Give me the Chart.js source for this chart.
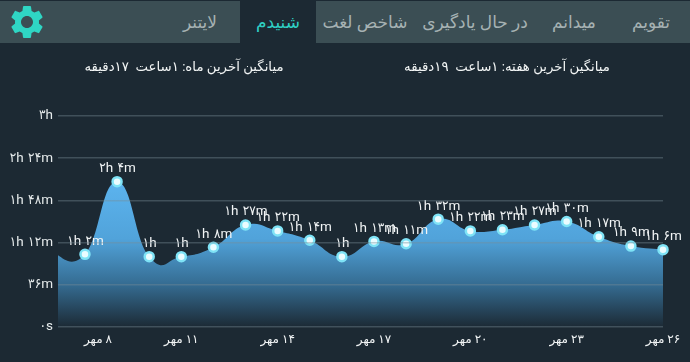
<!DOCTYPE html>
<html lang="fa">
<head>
<meta charset="utf-8">
<title>شنیدم</title>
<script src="https://cdn.jsdelivr.net/npm/chart.js@4"></script>
<style>
  html, body { margin: 0; padding: 0; background: #1c2933; overflow: hidden; }
  body { width: 690px; height: 362px; position: relative; font-family: Roboto, "DejaVu Sans", sans-serif; }
  canvas { position: absolute; left: 0; top: 0; }
  .bar { position: absolute; left: 0; top: 1px; width: 690px; height: 42px; background: #3b4e54; }
  .tab { position: absolute; top: 1px; height: 42px; line-height: 43px; transform: translateX(-50%); white-space: nowrap; color: #a6b2b3; font-size: 17px; direction: rtl; }
  .active { left: 240px; width: 76px; transform: none; text-align: center; background: #1c2933; color: #2fd0c4; top: 0; height: 43px; line-height: 45px; }
  .avg { position: absolute; top: 58px; transform: translateX(-50%); white-space: pre; color: #f2f5f5; font-size: 13.3px; line-height: 18px; direction: rtl; }
  svg { position: absolute; left: 7px; top: 2px; }
</style>
</head>
<body>
<canvas id="listenChart" width="690" height="362"></canvas>
<div class="bar"></div>
<svg width="40" height="40" viewBox="0 0 24 24"><path fill="#2fd6c4" d="M19.14 12.94c.04-.3.06-.61.06-.94 0-.32-.02-.64-.07-.94l2.03-1.58c.18-.14.23-.41.12-.61l-1.92-3.32c-.12-.22-.37-.29-.59-.22l-2.39.96c-.5-.38-1.03-.7-1.62-.94l-.36-2.54c-.04-.24-.24-.41-.48-.41h-3.84c-.24 0-.43.17-.47.41l-.36 2.54c-.59.24-1.13.57-1.62.94l-2.39-.96c-.22-.08-.47 0-.59.22L2.74 8.87c-.12.21-.08.47.12.61l2.03 1.58c-.05.3-.09.63-.09.94s.02.64.07.94l-2.03 1.58c-.18.14-.23.41-.12.61l1.92 3.32c.12.22.37.29.59.22l2.39-.96c.5.38 1.03.7 1.62.94l.36 2.54c.05.24.24.41.48.41h3.84c.24 0 .44-.17.47-.41l.36-2.54c.59-.24 1.13-.56 1.62-.94l2.39.96c.22.08.47 0 .59-.22l1.92-3.32c.12-.22.07-.47-.12-.61l-2.01-1.58zM12 15.6c-1.98 0-3.6-1.62-3.6-3.6s1.62-3.6 3.6-3.6 3.6 1.62 3.6 3.6-1.62 3.6-3.6 3.6z"/></svg>
<div class="tab" style="left:200px">لایتنر</div>
<div class="tab active">شنیدم</div>
<div class="tab" style="left:365px">شاخص لغت</div>
<div class="tab" style="left:475px">در حال یادگیری</div>
<div class="tab" style="left:574px">میدانم</div>
<div class="tab" style="left:651px">تقویم</div>
<div class="avg" style="left:184px">میانگین آخرین ماه: ۱ساعت  ۱۷دقیقه</div>
<div class="avg" style="left:507px">میانگین آخرین هفته: ۱ساعت  ۱۹دقیقه</div>
<script>
// day of the month (mehr) and minutes listened, day 7 sits just off the left edge
const days = [7, 8, 9, 10, 11, 12, 13, 14, 15, 16, 17, 18, 19, 20, 21, 22, 23, 24, 25, 26];
const minutes = [63, 62, 124, 60, 60, 68, 87, 82, 74, 60, 73, 71, 92, 82, 83, 87, 90, 77, 69, 66];
const pointLabels = ["", "۱h ۲m", "۲h ۴m", "۱h", "۱h", "۱h ۸m", "۱h ۲۷m", "۱h ۲۲m", "۱h ۱۴m", "۱h", "۱h ۱۳m", "۱h ۱۱m", "۱h ۳۲m", "۱h ۲۲m", "۱h ۲۳m", "۱h ۲۷m", "۱h ۳۰m", "۱h ۱۷m", "۱h ۹m", "۱h ۶m"];
const yTickValues = [0, 36, 72, 108, 144, 180];
const yTickLabels = ["۰s", "۳۶m", "۱h ۱۲m", "۱h ۴۸m", "۲h ۲۴m", "۳h"];
const xTickDays = [8, 11, 14, 17, 20, 23, 26];
const xTickLabels = ["۸ مهر", "۱۱ مهر", "۱۴ مهر", "۱۷ مهر", "۲۰ مهر", "۲۳ مهر", "۲۶ مهر"];

const fontFamily = 'Roboto, "DejaVu Sans Condensed", "DejaVu Sans", sans-serif';
const curveIntensity = 0.24;

const textPlugin = {
  id: "textPlugin",
  beforeDraw(chart) {
    // digits fall back to a wider font than the original
    chart.ctx.letterSpacing = "-1px";
    chart.ctx.wordSpacing = "3px";
  },
  // the original curve uses even catmull-rom handles, chart.js weights them by distance
  beforeDatasetsDraw(chart) {
    const meta = chart.getDatasetMeta(0);
    meta.dataset.updateControlPoints(chart.chartArea);
    const pts = meta.data;
    pts.forEach((pt, i) => {
      const prev = pts[Math.max(i - 1, 0)];
      const next = pts[Math.min(i + 1, pts.length - 1)];
      const dx = (next.x - prev.x) * curveIntensity;
      const dy = (next.y - prev.y) * curveIntensity;
      pt.cp1x = pt.x - dx;
      pt.cp1y = pt.y - dy;
      pt.cp2x = pt.x + dx;
      pt.cp2y = pt.y + dy;
    });
  },
  // value labels over the points and the date row under the axis
  afterDatasetsDraw(chart) {
    const ctx = chart.ctx;
    const meta = chart.getDatasetMeta(0);
    ctx.save();
    ctx.fillStyle = "#f2f5f6";
    ctx.textAlign = "center";
    ctx.textBaseline = "middle";
    ctx.font = "13.5px " + fontFamily;
    meta.data.forEach((pt, i) => {
      if (pointLabels[i]) ctx.fillText(pointLabels[i], pt.x, pt.y - 13);
    });
    ctx.direction = "rtl";
    ctx.letterSpacing = "0px";
    ctx.wordSpacing = "0px";
    ctx.font = '12px Roboto, "DejaVu Sans", sans-serif';
    xTickDays.forEach((d, i) => {
      // first date is pushed inward in the original
      const shift = i === 0 ? 13 : 0;
      ctx.fillText(xTickLabels[i], chart.scales.x.getPixelForValue(d) + shift, 340);
    });
    ctx.restore();
  },
};

const listenChart = new Chart(document.getElementById("listenChart"), {
  type: "line",
  data: {
    datasets: [
      {
        data: days.map((d, i) => ({ x: d, y: minutes[i] })),
        fill: true,
        tension: 0.4,
        borderWidth: 0,
        clip: { left: 0, right: 10, top: 10, bottom: 0 },
        backgroundColor(c) {
          const area = c.chart.chartArea;
          if (!area) return "#58aee8";
          const g = c.chart.ctx.createLinearGradient(0, 180, 0, area.bottom);
          g.addColorStop(0, "#5cb4ef");
          g.addColorStop(0.4, "#51a3da");
          g.addColorStop(0.72, "#346a8f");
          g.addColorStop(1, "#1c2a35");
          return g;
        },
        pointRadius: (c) => (c.dataIndex === 0 ? 0 : 4.5),
        pointBorderWidth: 2.5,
        pointBorderColor: "#7fe3f6",
        pointBackgroundColor: "#eafcff",
      },
    ],
  },
  plugins: [textPlugin],
  options: {
    responsive: false,
    animation: false,
    layout: { padding: { top: 116, right: 27, bottom: 35, left: 0 } },
    plugins: { legend: { display: false }, tooltip: { enabled: false } },
    scales: {
      x: {
        type: "linear",
        display: false,
        min: 7.16,
        max: 26,
      },
      y: {
        min: 0,
        max: 180,
        afterFit(scale) { scale.width = 58; },
        afterBuildTicks(scale) { scale.ticks = yTickValues.map((v) => ({ value: v })); },
        grid: { z: 1, color: "rgba(120,140,150,0.4)", lineWidth: 1.5, drawTicks: false },
        border: { display: false },
        ticks: {
          padding: 6,
          color: "#e6ebec",
          font: { family: fontFamily, size: 13.5 },
          callback: (v) => yTickLabels[yTickValues.indexOf(v)],
        },
      },
    },
  },
});
</script>
</body>
</html>
